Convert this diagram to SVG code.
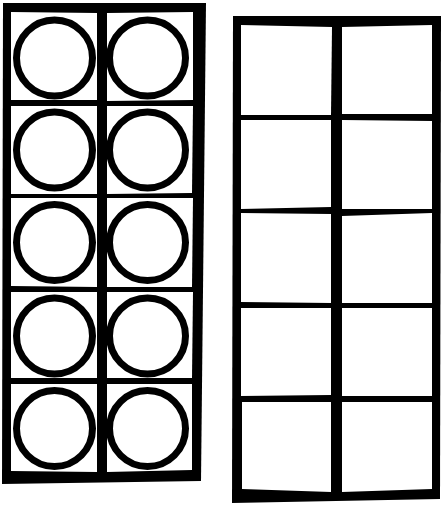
<svg xmlns="http://www.w3.org/2000/svg" width="442" height="505" viewBox="0 0 442 505">
<style>
.frame{fill:#000}
.cell{fill:#fff}
.dot{fill:none;stroke:#000;stroke-width:7}
</style>
<rect width="442" height="505" fill="#fff"/>
<g id="frame-left">
<polygon class="frame" points="3,3 206,3 201,481 2,484"/>
<polygon class="cell" points="11,12 97,13 97,100 11,100"/>
<polygon class="cell" points="107,13 193,12 193,100 107,101"/>
<polygon class="cell" points="11,106 97,106 97,194 11,194"/>
<polygon class="cell" points="107,106 193,106 192,193 107,194"/>
<polygon class="cell" points="11,198 97,198 97,287 11,286"/>
<polygon class="cell" points="107,198 193,198 192,287 107,287"/>
<polygon class="cell" points="11,292 97,292 97,378 11,378"/>
<polygon class="cell" points="107,292 193,292 192,378 107,378"/>
<polygon class="cell" points="11,384 97,384 97,472 11,471"/>
<polygon class="cell" points="107,384 192,384 192,470 107,472"/>
</g>
<g id="counters">
<circle class="dot" cx="54.5" cy="58" r="38"/>
<circle class="dot" cx="147.5" cy="58" r="38"/>
<circle class="dot" cx="54.5" cy="150" r="38"/>
<circle class="dot" cx="147.5" cy="150" r="38"/>
<circle class="dot" cx="54.5" cy="242.5" r="38"/>
<circle class="dot" cx="147.5" cy="242.5" r="38"/>
<circle class="dot" cx="54.5" cy="336" r="38"/>
<circle class="dot" cx="147.5" cy="336" r="38"/>
<circle class="dot" cx="54.5" cy="428.5" r="38"/>
<circle class="dot" cx="147.5" cy="428.5" r="38"/>
</g>
<g id="frame-right">
<polygon class="frame" points="233,16 441,16 440,499 232,503"/>
<polygon class="cell" points="241,25 332,27 331,115 241,115"/>
<polygon class="cell" points="342,27 432,25 432,114 342,114"/>
<polygon class="cell" points="241,120 331,120 331,207 241,209"/>
<polygon class="cell" points="342,120 432,121 432,209 342,209"/>
<polygon class="cell" points="241,213 331,214 331,303 241,302"/>
<polygon class="cell" points="342,216 432,213 432,303 342,303"/>
<polygon class="cell" points="241,308 331,308 331,395 241,396"/>
<polygon class="cell" points="342,308 432,308 432,396 342,396"/>
<polygon class="cell" points="242,402 331,402 331,492 242,489"/>
<polygon class="cell" points="342,402 432,402 432,489 342,492"/>
</g>
</svg>
